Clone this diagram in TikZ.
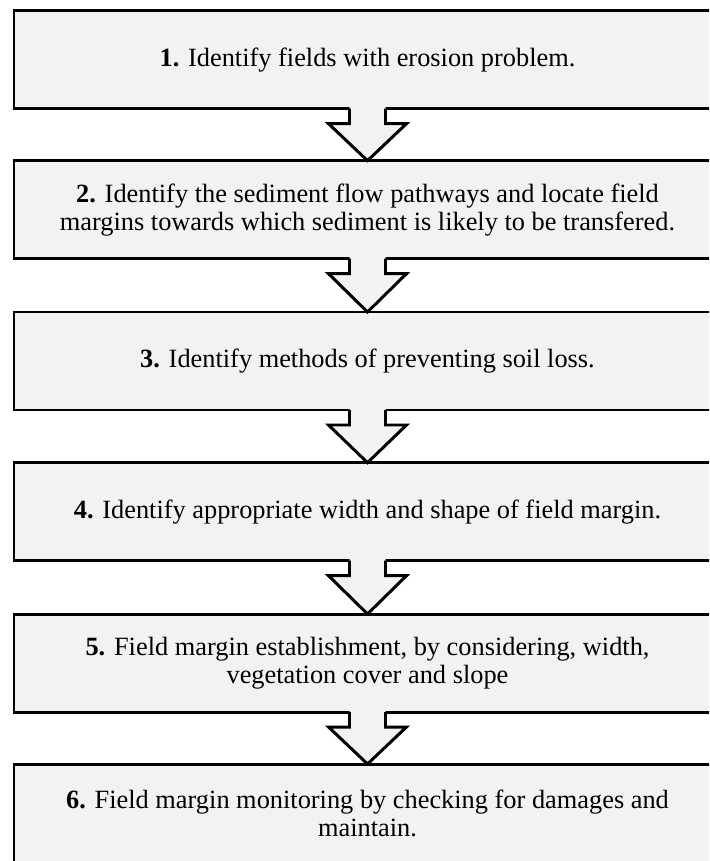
\documentclass[tikz,border=0pt]{standalone}
\usepackage{fontspec}
\setmainfont{Liberation Serif}
\usetikzlibrary{calc}
\definecolor{panel}{HTML}{F2F2F2}

% block arrow from the bottom of one box to the top of the next
\newcommand{\flowarrow}[2]{%
  \fill[panel] ([xshift=-0.54cm,yshift=0.06cm]#1.south) -- ([xshift=-0.54cm,yshift=-0.45cm]#1.south)
    -- ([xshift=-1.17cm,yshift=-0.45cm]#1.south) -- (#2.north)
    -- ([xshift=1.17cm,yshift=-0.45cm]#1.south) -- ([xshift=0.54cm,yshift=-0.45cm]#1.south)
    -- ([xshift=0.54cm,yshift=0.06cm]#1.south) -- cycle;
  \draw[flowline] ([xshift=-0.54cm]#1.south) -- ([xshift=-0.54cm,yshift=-0.45cm]#1.south)
    -- ([xshift=-1.17cm,yshift=-0.45cm]#1.south) -- (#2.north)
    -- ([xshift=1.17cm,yshift=-0.45cm]#1.south) -- ([xshift=0.54cm,yshift=-0.45cm]#1.south)
    -- ([xshift=0.54cm]#1.south);
}

\begin{document}
\begin{tikzpicture}[
  stepbox/.style={draw=black, line width=2.55pt, fill=panel, outer sep=0pt,
    minimum width=21.21cm, minimum height=2.94cm, inner sep=0pt, align=center,
    font=\fontsize{22.5pt}{23.9pt}\selectfont},
  flowline/.style={draw=black, line width=2.55pt, line join=miter},
]

% page frame
\clip (0,0) rectangle (21.27,-25.83);
\fill[white] (0,0) rectangle (21.27,-25.83);

% steps
\node[stepbox] (s1) at (11.025,-1.79)
  {\textbf{1.} Identify fields with erosion problem.};
\node[stepbox] (s2) at (11.025,-6.29)
  {\textbf{2.} Identify the sediment flow pathways and locate field\\
   margins towards which sediment is likely to be transfered.};
\node[stepbox] (s3) at (11.025,-10.83)
  {\textbf{3.} Identify methods of preventing soil loss.};
\node[stepbox] (s4) at (11.025,-15.35)
  {\textbf{4.} Identify appropriate width and shape of field margin.};
\node[stepbox] (s5) at (11.025,-19.89)
  {\textbf{5.} Field margin establishment, by considering, width,\\
   vegetation cover and slope};
\node[stepbox] (s6) at (11.025,-24.39)
  {\textbf{6.} Field margin monitoring by checking for damages and\\
   maintain.};

% arrows between steps
\flowarrow{s1}{s2}
\flowarrow{s2}{s3}
\flowarrow{s3}{s4}
\flowarrow{s4}{s5}
\flowarrow{s5}{s6}

\end{tikzpicture}
\end{document}
